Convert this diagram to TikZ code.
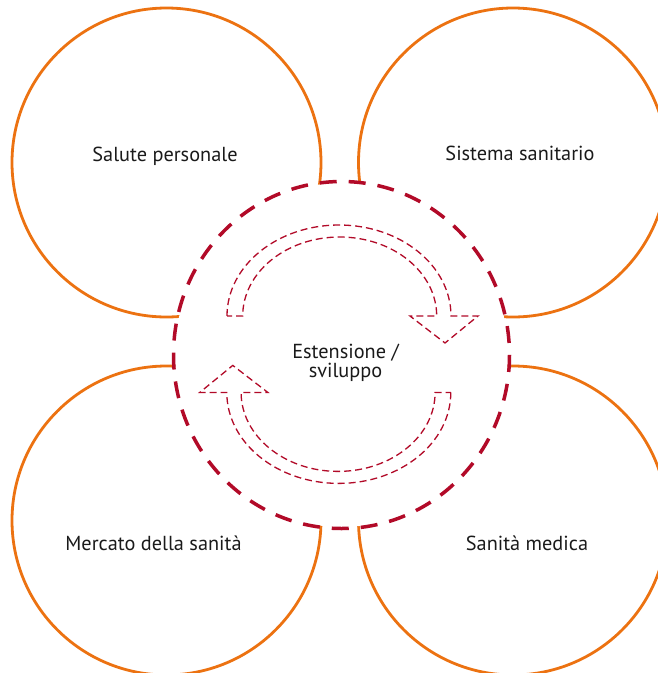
\documentclass[tikz,border=0pt]{standalone}
\usepackage{fontspec}
\setmainfont{PT Sans}
\definecolor{orng}{RGB}{236,114,17}
\definecolor{dred}{RGB}{178,10,40}
\definecolor{txt}{RGB}{26,26,26}
\begin{document}
\begin{tikzpicture}[x=1pt,y=-1pt,
  petal/.style={draw=orng,line width=2.8pt},
  hub/.style={draw=dred,line width=3.5pt,dash pattern=on 17pt off 12pt},
  flow/.style={draw=dred,line width=1.3pt,dash pattern=on 7pt off 4pt,line join=miter},
  lbl/.style={font=\fontsize{20.3}{18.8}\selectfont,text=txt,align=center,inner sep=0pt}]
\useasboundingbox (0,0) rectangle (658,673);
\begin{scope}
  \clip (0,0) rectangle (658,673);
  \draw[petal] (166.5,162.5) circle[radius=154.5];
  \draw[petal] (513,162.5) circle[radius=154.5];
  \draw[petal] (166.5,520.5) circle[radius=154.5];
  \draw[petal] (513,520.5) circle[radius=154.5];
\end{scope}
\fill[white] (341.5,355) ellipse[x radius=166.5, y radius=172];
\draw[hub] (341.5,355) ellipse[x radius=168, y radius=173.5];
% top arrow (clockwise)
\draw[flow] (227,316) arc[start angle=180,end angle=360,x radius=112,y radius=91]
  -- (478,316) -- (445,343) -- (410,316) -- (436.7,316)
  arc[start angle=0,end angle=-180,x radius=97,y radius=79] -- cycle;
% bottom arrow (rotated copy)
\begin{scope}[rotate around={180:(338.9,354.2)}]
\draw[flow] (227,316) arc[start angle=180,end angle=360,x radius=112,y radius=91]
  -- (478,316) -- (445,343) -- (410,316) -- (436.7,316)
  arc[start angle=0,end angle=-180,x radius=97,y radius=79] -- cycle;
\end{scope}
\node[lbl,anchor=base] (sp) at (165,161) {Salute personale};
\node[lbl,anchor=base] (ss) at (520,160) {Sistema sanitario};
\node[lbl,anchor=base] (md) at (153.5,550) {Mercato della sanità};
\node[lbl,anchor=base] (sm) at (527,550.5) {Sanità medica};
\node[lbl] (es) at (345.5,362.5) {Estensione /\\sviluppo};
\end{tikzpicture}
\end{document}
